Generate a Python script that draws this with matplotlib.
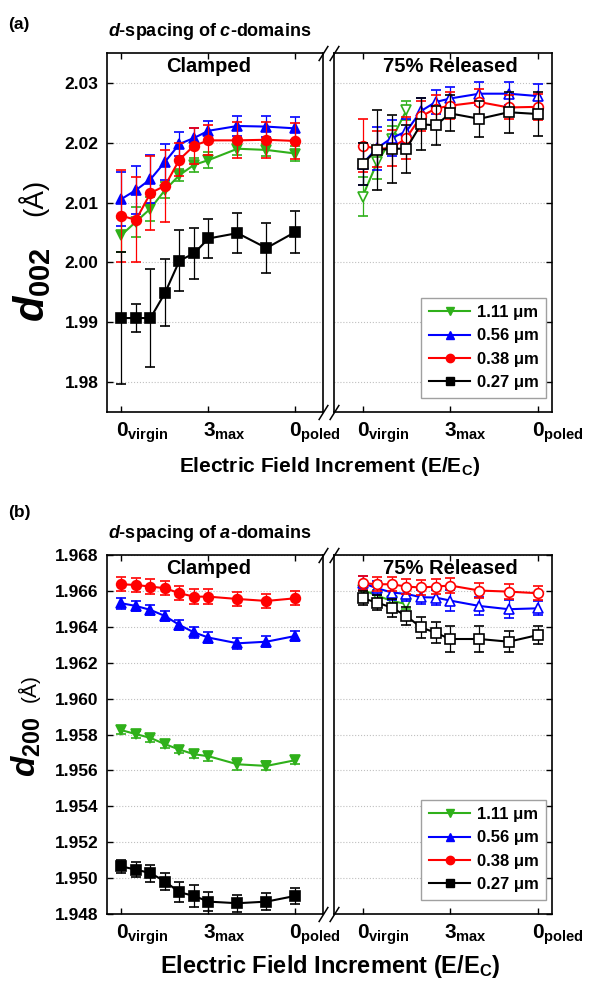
import matplotlib
matplotlib.use('Agg')
import matplotlib.pyplot as plt
import matplotlib.transforms as mtransforms
from matplotlib.lines import Line2D

plt.rcParams['font.family'] = 'Liberation Sans'
plt.rcParams['font.weight'] = 'bold'
plt.rcParams['mathtext.fontset'] = 'custom'
plt.rcParams['mathtext.rm'] = 'Liberation Sans:bold'
plt.rcParams['mathtext.bf'] = 'Liberation Sans:bold'
plt.rcParams['mathtext.it'] = 'Liberation Sans:italic:bold'

# field steps (index along the poling sequence)
steps = [0, 1, 2, 3, 4, 5, 6, 8, 10, 12]
tick_pos = [0, 6, 12]
tick_labels = [r'$\mathrm{0_{virgin}}$', r'$\mathrm{3_{max}}$', r'$\mathrm{0_{poled}}$']

sizes = ['1.11 μm', '0.56 μm', '0.38 μm', '0.27 μm']
colors = ['#2fb01a', '#0000ff', '#ff0000', '#000000']
markers = ['v', '^', 'o', 's']

# ---- (a) d002, c-domains ----
a_cl_111 = [2.0046, 2.0068, 2.0090, 2.0121, 2.0146, 2.0163, 2.0171, 2.0190, 2.0188, 2.0182]
a_cl_111_err = [0.0028, 0.0025, 0.0020, 0.0013, 0.0010, 0.0012, 0.0014, 0.0011, 0.0010, 0.0012]
a_cl_056 = [2.0106, 2.0121, 2.0139, 2.0168, 2.0198, 2.0208, 2.0220, 2.0228, 2.0227, 2.0224]
a_cl_056_err = [0.0045, 0.0040, 0.0040, 0.0030, 0.0020, 0.0016, 0.0016, 0.0017, 0.0017, 0.0019]
a_cl_038 = [2.0078, 2.0071, 2.0116, 2.0128, 2.0172, 2.0195, 2.0204, 2.0204, 2.0205, 2.0203]
a_cl_038_err = [0.0077, 0.0071, 0.0062, 0.0060, 0.0028, 0.0030, 0.0025, 0.0030, 0.0030, 0.0030]
a_cl_027 = [1.9907, 1.9907, 1.9907, 1.9949, 2.0003, 2.0015, 2.0040, 2.0049, 2.0024, 2.0051]
a_cl_027_err = [0.0110, 0.0023, 0.0082, 0.0056, 0.0051, 0.0043, 0.0032, 0.0034, 0.0042, 0.0035]

a_re_111 = [2.0110, 2.0167, 2.0206, 2.0254]
a_re_111_err = [0.0033, 0.0028, 0.0022, 0.0016]
a_re_056 = [2.0165, 2.0191, 2.0208, 2.0219, 2.0253, 2.0268, 2.0274, 2.0282, 2.0282, 2.0278]
a_re_056_err = [0.0035, 0.0036, 0.0030, 0.0020, 0.0022, 0.0020, 0.0020, 0.0019, 0.0019, 0.0021]
a_re_038 = [2.0195, 2.0190, 2.0191, 2.0208, 2.0244, 2.0257, 2.0262, 2.0268, 2.0259, 2.0260]
a_re_038_err = [0.0044, 0.0030, 0.0030, 0.0035, 0.0025, 0.0022, 0.0022, 0.0022, 0.0020, 0.0022]
a_re_027 = [2.0165, 2.0188, 2.0190, 2.0190, 2.0231, 2.0229, 2.0249, 2.0240, 2.0251, 2.0248]
a_re_027_err = [0.0035, 0.0067, 0.0057, 0.0040, 0.0043, 0.0032, 0.0030, 0.0030, 0.0034, 0.0037]

# ---- (b) d200, a-domains ----
b_cl_111 = [1.95824, 1.95802, 1.95781, 1.95746, 1.95716, 1.95690, 1.95679, 1.95634, 1.95625, 1.95657]
b_cl_111_err = [0.00022, 0.0002, 0.0002, 0.00022, 0.0002, 0.0002, 0.00025, 0.00033, 0.00025, 0.00022]
b_cl_056 = [1.96531, 1.96516, 1.96494, 1.96460, 1.96410, 1.96369, 1.96340, 1.96308, 1.96317, 1.96349]
b_cl_056_err = [0.0003, 0.0003, 0.0003, 0.0003, 0.0003, 0.0003, 0.0003, 0.0003, 0.0003, 0.0003]
b_cl_038 = [1.96637, 1.96633, 1.96624, 1.96615, 1.96587, 1.96568, 1.96568, 1.96555, 1.96544, 1.96559]
b_cl_038_err = [0.0004, 0.0004, 0.0004, 0.0004, 0.0004, 0.0004, 0.0004, 0.0004, 0.0004, 0.0004]
b_cl_027 = [1.95065, 1.95047, 1.95028, 1.94981, 1.94921, 1.94901, 1.94869, 1.94860, 1.94869, 1.94901]
b_cl_027_err = [0.00037, 0.0004, 0.00047, 0.0005, 0.00055, 0.0006, 0.00055, 0.00047, 0.00049, 0.00044]

b_re_111 = [1.96606, 1.96574, 1.96544, 1.96527]
b_re_111_err = [0.0003, 0.0003, 0.0003, 0.0003]
b_re_056 = [1.96643, 1.96615, 1.96591, 1.96583, 1.96565, 1.96563, 1.96546, 1.96516, 1.96498, 1.96503]
b_re_056_err = [0.0004, 0.0004, 0.0004, 0.0004, 0.0004, 0.0004, 0.0006, 0.0005, 0.0005, 0.0004]
b_re_038 = [1.96643, 1.96637, 1.96637, 1.96624, 1.96619, 1.96624, 1.96630, 1.96602, 1.96596, 1.96587]
b_re_038_err = [0.0004, 0.0004, 0.0004, 0.0004, 0.0004, 0.0004, 0.0004, 0.0004, 0.0004, 0.0004]
b_re_027 = [1.96559, 1.96535, 1.96507, 1.96460, 1.96397, 1.96367, 1.96332, 1.96332, 1.96317, 1.96354]
b_re_027_err = [0.0004, 0.0004, 0.0005, 0.0005, 0.0006, 0.0006, 0.0007, 0.0007, 0.0006, 0.0005]

W, H = 598, 988
fig = plt.figure(figsize=(W / 100, H / 100), dpi=100)


def fx(px):
    return px / W


def fy(px):
    return 1 - px / H


def style_axis(ax, side):
    for s in ax.spines.values():
        s.set_linewidth(1.2)
    ax.set_xticks(tick_pos)
    ax.tick_params(axis='both', direction='in', length=4, width=1)
    ax.tick_params(axis='x', top=True, bottom=True, labelsize=15, pad=6)
    if side == 'left':
        ax.tick_params(axis='y', left=True, right=False, labelsize=12.5, pad=6)
    else:
        ax.tick_params(axis='y', left=False, right=True, labelleft=False)
    ax.set_xticklabels(tick_labels)
    # centre the big digit (not the whole label) on its tick
    shift = mtransforms.ScaledTranslation(-4.3 / 72, 0, fig.dpi_scale_trans)
    for lab in ax.get_xticklabels():
        lab.set_horizontalalignment('left')
        lab.set_transform(lab.get_transform() + shift)
    ax.grid(axis='y', linestyle=':', color='#c0c0c0', linewidth=0.8)
    ax.set_axisbelow(True)


def series(ax, x, y, e, i, filled):
    c = colors[i]
    ax.errorbar(x, y, yerr=e, color=c, marker=markers[i], ms=7,
                mfc=c if filled else 'white', mec=c, mew=1.2, lw=1.5,
                elinewidth=0.9, capsize=3.5, capthick=0.9, zorder=3 + i)


def panel(top, bottom, clamped, released, ylim, yticks, yfmt):
    axL = fig.add_axes([fx(107), fy(bottom), fx(216), (bottom - top) / H])
    axR = fig.add_axes([fx(334), fy(bottom), fx(218.5), (bottom - top) / H])
    for ax in (axL, axR):
        ax.set_ylim(*ylim)
        ax.set_yticks(yticks)
    axL.set_xlim(-1.0, 13.9)
    axR.set_xlim(-1.95, 13.0)
    axL.set_yticklabels([yfmt % v for v in yticks])
    style_axis(axL, 'left')
    style_axis(axR, 'right')
    for i in (3, 2, 1, 0):
        y, e = clamped[i]
        series(axL, steps[:len(y)], y, e, i, True)
        y, e = released[i]
        series(axR, steps[:len(y)], y, e, i, False)
    tr = mtransforms.blended_transform_factory(axL.transData, axL.transAxes)
    axL.text(6, 0.963, 'Clamped', transform=tr, ha='center', va='center', fontsize=14.5)
    tr = mtransforms.blended_transform_factory(axR.transData, axR.transAxes)
    axR.text(6, 0.963, '75% Released', transform=tr, ha='center', va='center', fontsize=14.5)
    # broken-axis marks
    kw = dict(marker=[(-1, -1.6), (1, 1.6)], markersize=11, linestyle='none',
              color='k', mec='k', mew=1.1, clip_on=False)
    axL.plot([1, 1], [0, 1], transform=axL.transAxes, **kw)
    axR.plot([0, 0], [0, 1], transform=axR.transAxes, **kw)
    handles = [Line2D([], [], color=colors[i], marker=markers[i], ms=6, lw=1.5)
               for i in range(4)]
    leg = axR.legend(handles, sizes, loc='lower right', bbox_to_anchor=(0.972, 0.04),
                     borderaxespad=0, fontsize=12, handlelength=2.5, handletextpad=0.4,
                     labelspacing=0.5, borderpad=0.45, fancybox=False, framealpha=1)
    leg.get_frame().set_edgecolor('#a0a0a0')
    leg.get_frame().set_linewidth(1)
    return axL, axR


panel(53, 412,
      [(a_cl_111, a_cl_111_err), (a_cl_056, a_cl_056_err), (a_cl_038, a_cl_038_err), (a_cl_027, a_cl_027_err)],
      [(a_re_111, a_re_111_err), (a_re_056, a_re_056_err), (a_re_038, a_re_038_err), (a_re_027, a_re_027_err)],
      (1.975, 2.035), [1.98, 1.99, 2.00, 2.01, 2.02, 2.03], '%.2f')

panel(555, 914,
      [(b_cl_111, b_cl_111_err), (b_cl_056, b_cl_056_err), (b_cl_038, b_cl_038_err), (b_cl_027, b_cl_027_err)],
      [(b_re_111, b_re_111_err), (b_re_056, b_re_056_err), (b_re_038, b_re_038_err), (b_re_027, b_re_027_err)],
      (1.948, 1.968), [1.948 + 0.002 * k for k in range(11)], '%.3f')

# panel letters and titles
fig.text(fx(8), fy(24), '(a)', ha='left', va='center', fontsize=12.5)
fig.text(fx(8), fy(512), '(b)', ha='left', va='center', fontsize=12.5)
fig.text(fx(108), fy(31), r'$d$-spacing of $c$-domains', ha='left', va='center', fontsize=13)
fig.text(fx(108), fy(533), r'$d$-spacing of $a$-domains', ha='left', va='center', fontsize=13)

# y labels
fig.text(fx(32), fy(285), r'$d_{002}$', rotation=90, ha='center', va='center', fontsize=30)
fig.text(fx(33), fy(197), '(Å)', rotation=90, ha='center', va='center', fontsize=20, fontweight='normal')
fig.text(fx(26), fy(747), r'$d_{200}$', rotation=90, ha='center', va='center', fontsize=24)
fig.text(fx(29), fy(688), '(Å)', rotation=90, ha='center', va='center', fontsize=15, fontweight='normal')

# x labels
fig.text(fx(330), fy(466), r'Electric Field Increment (E/E$_\mathrm{C}$)', ha='center', va='center', fontsize=15)
fig.text(fx(330), fy(966), r'Electric Field Increment (E/E$_\mathrm{C}$)', ha='center', va='center', fontsize=17)

fig.savefig('out.png', dpi=100)
